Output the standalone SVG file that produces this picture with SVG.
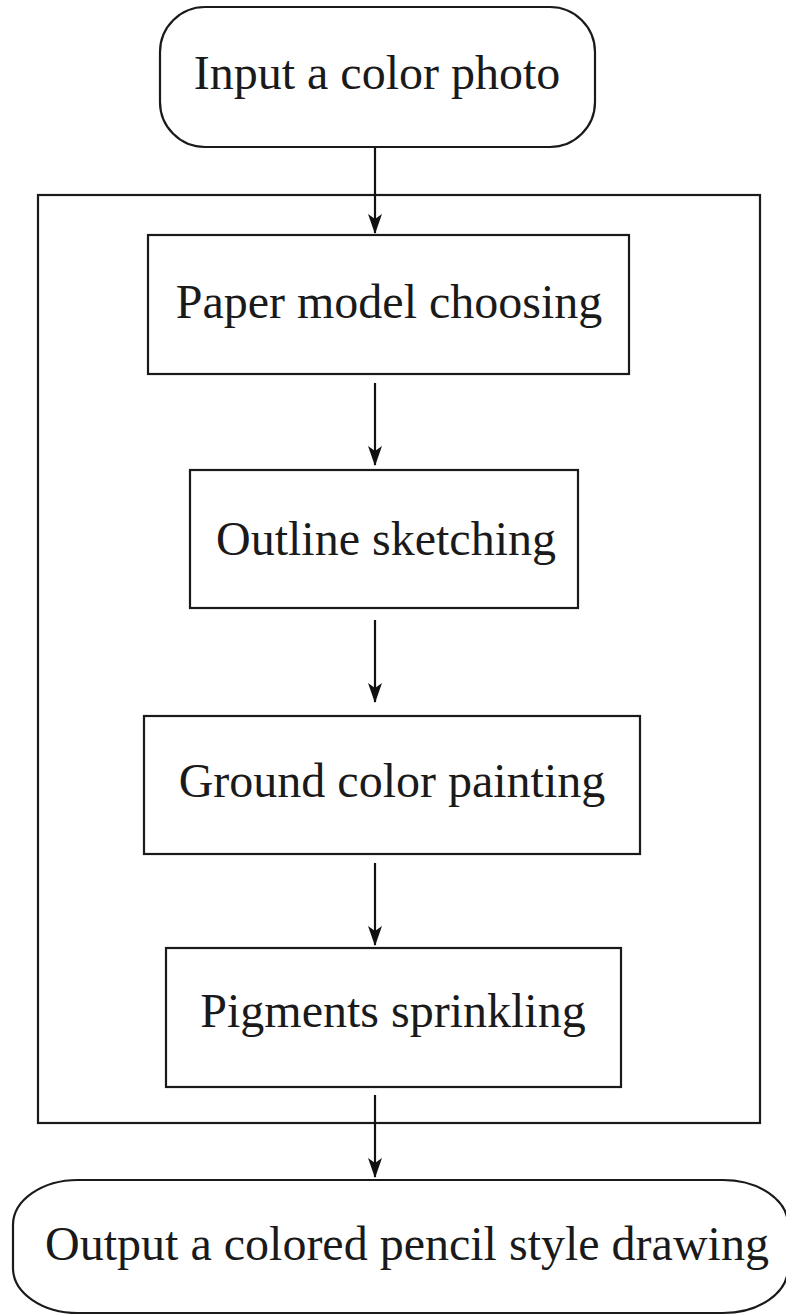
<svg xmlns="http://www.w3.org/2000/svg" width="786" height="1315" viewBox="0 0 786 1315">
<style>
.shape{fill:#fff;stroke:#1a1a1a;stroke-width:2.2}
.frame{fill:none;stroke:#1a1a1a;stroke-width:2.2}
.lbl{font-family:"Liberation Serif","Times New Roman",serif;font-size:48px;fill:#1a1a1a;text-anchor:middle}
.conn{stroke:#111;stroke-width:2.2;fill:none;marker-end:url(#ah)}
</style>
<defs>
<marker id="ah" markerWidth="20" markerHeight="14" refX="19" refY="7" orient="auto" markerUnits="userSpaceOnUse" viewBox="0 0 20 14">
<path d="M0,0 L20,7 L0,14 L5,7 Z" fill="#111"/>
</marker>
</defs>
<rect width="786" height="1315" fill="#fff"/>
<g id="container">
<rect class="frame" x="38" y="195" width="722" height="928"/>
</g>
<g id="input">
<rect class="shape" x="160" y="7" width="435" height="140" rx="45" ry="45"/>
<text class="lbl" x="377" y="89">Input a color photo</text>
</g>
<g id="paper">
<rect class="shape" x="148" y="235" width="481" height="139"/>
<text class="lbl" x="389" y="318">Paper model choosing</text>
</g>
<g id="outline">
<rect class="shape" x="190" y="470" width="388" height="138"/>
<text class="lbl" x="386" y="555">Outline sketching</text>
</g>
<g id="ground">
<rect class="shape" x="144" y="716" width="496" height="138"/>
<text class="lbl" x="392" y="797">Ground color painting</text>
</g>
<g id="pigments">
<rect class="shape" x="166" y="948" width="455" height="139"/>
<text class="lbl" x="393" y="1027">Pigments sprinkling</text>
</g>
<g id="output">
<rect class="shape" x="13" y="1180" width="775" height="133" rx="65" ry="45"/>
<text class="lbl" x="407" y="1260">Output a colored pencil style drawing</text>
</g>
<g id="connectors">
<path class="conn" d="M375,148 V233"/>
<path class="conn" d="M375,383 V465"/>
<path class="conn" d="M375,620 V702"/>
<path class="conn" d="M375,863 V945"/>
<path class="conn" d="M375,1095 V1177"/>
</g>
</svg>
